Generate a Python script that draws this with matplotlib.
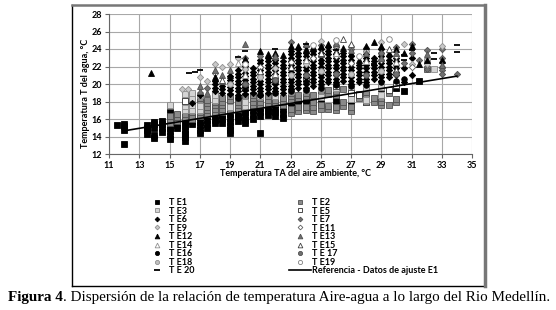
import numpy as np
import matplotlib
matplotlib.use("Agg")
import matplotlib.pyplot as plt
from matplotlib.lines import Line2D

plt.rcParams['font.family'] = ['Lato', 'DejaVu Sans']

# datos: (TA aire, [T agua ...]) por estacion
E1 = [(11.5, [15.3]), (12, [13.1, 14.8, 15.2, 15.4]), (13.5, [14.3, 14.7, 15.0, 15.3]),
      (14, [13.8, 14.2, 15.0, 15.4, 15.7]), (14.5, [14.5, 15.0, 15.4, 15.8]),
      (15, [13.7, 14.1, 14.6, 15.0, 15.4, 15.8, 16.3, 16.8]), (15.5, [15.0, 15.3, 15.7, 16.0, 16.5]),
      (16, [13.5, 13.9, 14.3, 14.8, 15.2, 15.6, 16.0, 16.6]), (16.5, [15.4, 15.8, 16.2, 16.7]),
      (17, [14.4, 14.8, 15.3, 15.7, 16.2, 16.6]), (17.5, [15.0, 15.4, 15.9, 16.4]),
      (18, [15.5, 15.9, 16.3, 16.8, 17.2]), (18.5, [15.6, 16.0, 16.5]),
      (19, [14.4, 14.8, 15.2, 15.7, 16.1, 16.6, 17.0]), (19.5, [15.8, 16.2, 16.6, 17.1]),
      (20, [15.5, 15.9, 16.3, 16.8, 17.2, 17.6]), (20.5, [16.0, 16.5, 17.0, 17.4]),
      (21, [14.4, 16.4, 16.8, 17.3]), (21.5, [16.5, 16.9, 17.3, 17.8]),
      (22, [16.3, 16.8, 17.2, 17.7]), (22.5, [16.1, 16.6, 17.1, 17.5]),
      (23, [17.0, 17.4, 17.9]), (23.5, [17.2, 17.7, 18.1]), (24, [17.3, 17.8, 18.3]),
      (24.5, [17.8]), (25, [17.6, 18.0, 18.5]), (26, [17.5, 18.2, 18.7]),
      (27, [17.1, 17.7, 18.9]), (28, [18.0, 19.2]), (29, [18.0, 19.5]), (30, [19.5]),
      (30.5, [19.2]), (31.5, [20.3])]
E2 = [(15, [15.6, 16.0, 16.4, 17.5]), (15.5, [15.8, 16.2, 16.6]),
      (16, [16.2, 16.6, 17.0, 17.4, 17.8, 18.2, 18.6]),
      (16.5, [16.0, 16.4, 16.8, 17.2, 17.6, 18.0, 18.4, 18.8]),
      (17, [16.4, 16.8, 17.2, 17.6, 18.0, 18.4]), (17.5, [16.6, 17.0, 17.4, 17.8, 18.2]),
      (18, [16.8, 17.2, 17.6, 18.0, 18.4, 18.8]), (18.5, [16.8, 17.2, 17.6, 18.0, 18.4]),
      (19, [17.0, 17.4, 17.8, 18.2, 18.6]), (19.5, [17.2, 17.6, 18.0, 18.4]),
      (20, [17.4, 17.8, 18.2, 18.6]), (20.5, [17.6, 18.0, 18.4, 18.8]),
      (21, [17.6, 18.0, 18.4]), (21.5, [17.8, 18.2, 18.6]), (22, [17.8, 18.2, 18.6]),
      (22.5, [17.6, 18.0, 18.4]), (23, [16.7, 17.1, 18.2, 18.6, 19.0]),
      (23.5, [16.9, 17.4, 18.4, 18.8]), (24, [17.0, 17.4, 18.6, 19.0]),
      (24.5, [16.9, 17.4, 18.0, 18.8]), (25, [17.2, 17.6, 18.8, 19.2]),
      (25.5, [17.1, 17.5, 18.9, 19.3]), (26, [17.0, 17.4, 18.8, 19.2]),
      (26.5, [17.5, 18.0, 19.4]), (27, [16.9, 17.4, 19.3]), (27.5, [18.4, 18.9]),
      (28, [17.9, 18.3, 18.7, 19.1]), (28.5, [18.0, 18.4]), (29, [17.6, 18.0, 18.4]),
      (29.5, [17.6, 19.0]), (30, [17.9, 18.3]), (32, [21.7])]
E3 = [(15, [17.6]), (16, [17.0, 17.5, 18.0, 18.5, 18.9]), (16.5, [17.0, 17.6, 18.4, 19.0]),
      (17, [17.0, 17.5, 18.8]), (18, [18.2, 18.7]), (19, [17.4]), (20, [17.5, 18.0]),
      (21, [18.6]), (22, [18.6]), (23, [19.2]), (24, [19.3]), (25, [18.5, 19.5]),
      (26, [19.6]), (27, [18.3, 19.5]), (28, [18.2, 19.6]), (29, [18.8, 19.7]),
      (32, [22.6]), (32.5, [21.7])]
E5 = [(16, [18.1]), (20, [19.5]), (22, [20.3]), (24, [20.5]), (26, [19.8]), (27, [19.0]),
      (27.5, [18.8]), (29.5, [19.3]), (30, [19.9])]
E6 = [(16.5, [17.8]), (17, [18.8]), (18, [19.2, 19.6, 20.0, 20.4]), (18.5, [19.0, 19.4, 19.8]),
      (19, [18.9, 19.3, 19.7, 20.1, 20.5, 20.9]),
      (19.5, [18.8, 19.2, 19.6, 20.0, 20.4, 20.8, 21.2, 21.6]),
      (20, [18.9, 19.3, 19.7, 20.1, 20.5, 20.9, 21.3, 21.7, 22.1, 22.5]),
      (20.5, [19.0, 19.4, 19.8, 20.2, 20.6, 21.0, 21.4, 21.8]),
      (21, [18.8, 19.2, 19.6, 20.0, 20.4, 20.8, 21.2, 21.6, 22.0, 22.4, 22.8]),
      (21.5, [19.0, 19.4, 19.8, 20.2, 20.6, 21.0, 21.4, 21.8, 22.2, 22.6, 23.0]),
      (22, [19.2, 19.6, 20.0, 20.4, 20.8, 21.2, 21.6, 22.0, 22.4, 22.8]),
      (22.5, [19.0, 19.4, 19.8, 20.2, 20.6, 21.0, 21.4, 21.8, 22.2, 22.6]),
      (23, [19.4, 19.8, 20.2, 20.6, 21.0, 21.4, 21.8, 22.2, 22.6, 23.0, 23.4, 23.8]),
      (23.5, [19.6, 20.0, 20.4, 20.8, 21.2, 21.6, 22.0, 22.4, 22.8, 23.2, 23.6, 24.0]),
      (24, [19.6, 20.0, 20.4, 20.8, 21.2, 21.6, 22.0, 22.4, 22.8, 23.2, 23.6]),
      (24.5, [19.8, 20.2, 20.6, 21.0, 21.4, 21.8, 22.2, 22.6, 23.0, 23.4, 23.8]),
      (25, [20.0, 20.4, 20.8, 21.2, 21.6, 22.0, 22.4, 22.8, 23.2, 23.6, 24.0]),
      (25.5, [20.2, 20.6, 21.0, 21.4, 21.8, 22.2, 22.6, 23.0, 23.4, 23.8, 24.2]),
      (26, [20.2, 20.6, 21.0, 21.4, 21.8, 22.2, 22.6, 23.0, 23.4]),
      (26.5, [20.4, 20.8, 21.2, 21.6, 22.0, 22.4, 22.8, 23.2, 23.6]),
      (27, [20.0, 20.4, 20.8, 21.2, 21.6, 22.0, 22.4, 22.8, 23.2]),
      (27.5, [20.2, 20.6, 21.0, 21.4, 21.8, 22.2]),
      (28, [20.2, 20.6, 21.0, 21.4, 21.8, 22.2, 22.6, 23.0, 23.4, 23.8]),
      (28.5, [20.6, 21.0, 21.4, 21.8, 22.2, 22.6, 23.0]),
      (29, [20.4, 20.8, 21.2, 21.6, 22.0, 22.4, 22.8, 23.2, 23.6, 24.0]),
      (29.5, [20.8, 21.2, 21.6, 22.0, 22.4, 22.8, 23.2]),
      (30, [21.0, 21.4, 21.8, 22.2, 22.6, 23.0]), (30.5, [20.2, 21.8]), (31, [21.0, 23.0])]
E7 = [(17.5, [19.6]), (20, [23.0]), (21, [23.2]), (22, [23.0]), (23, [24.8]), (24, [24.3]),
      (25, [24.5]), (26, [24.2]), (27, [24.0]), (28, [24.1]), (29, [23.6]), (30, [24.2]),
      (30.5, [22.4]), (31, [24.6, 23.6]), (31.5, [22.8]), (32, [23.9, 21.7]),
      (33, [24.0, 23.0, 22.5, 22.0, 21.6, 21.2]), (34, [21.1])]
E9 = [(15.8, [19.4]), (16.2, [19.4]), (17, [20.8]), (17.5, [20.4]), (18, [22.3]), (18.5, [21.9]),
      (19, [22.3]), (19.5, [23.0]), (20, [21.7]), (22, [21.8]), (24, [22.3]), (25, [24.9]),
      (26, [24.5]), (27, [24.3]), (28, [23.8]), (29, [24.8]), (30.5, [24.6]), (31, [22.3]),
      (32, [22.3]), (33, [24.4])]
E11 = [(18, [21.3]), (21, [22.0]), (23, [22.5]), (24.5, [23.0]), (26, [23.2]), (27, [22.4]),
       (29, [22.8]), (30, [23.2]), (31, [22.0])]
E12 = [(13.8, [21.3]), (18, [20.8]), (19, [21.0]), (20, [22.9]), (21, [23.8]), (21.5, [23.4]),
       (22, [23.6]), (22.5, [23.3]), (23, [24.3]), (23.5, [24.4]), (24, [24.0]), (24.5, [24.2]),
       (25, [24.4]), (25.5, [24.6]), (26, [23.8]), (26.5, [24.1]), (27, [23.6]),
       (27.5, [22.8]), (28, [24.3]), (28.5, [24.8]), (29, [24.4]), (29.5, [23.6]),
       (30, [24.0]), (30.5, [23.6]), (31, [24.4]), (31.5, [22.3]), (32, [22.8]), (33, [22.8])]
E13 = [(17, [19.2, 19.8]), (17.5, [19.0]), (18, [21.6]), (18.5, [20.4, 21.0]), (19, [21.6]),
       (20, [24.6]), (22, [23.2]), (24, [24.6]), (25, [23.4]), (26, [24.7]), (27, [23.9]),
       (28, [23.6]), (29, [23.0]), (30, [23.5]), (32, [23.4]), (33, [22.2])]
E14 = [(19.5, [22.4]), (20, [21.0]), (22, [21.2]), (24, [22.8]), (26, [23.6]), (28, [22.6]),
       (30, [22.5])]
E15 = [(18.5, [20.5]), (21, [21.5]), (23, [22.0]), (25, [23.5]), (26.5, [25.2]), (27, [24.6]),
       (29.5, [24.0]), (30, [21.6])]
E16 = [(19.5, [18.4]), (21, [18.8]), (22, [19.0]), (23, [19.2]), (24, [19.3]), (25, [19.6]),
       (26, [19.9]), (27, [19.8]), (28, [19.9]), (29, [20.2]), (30, [20.4]), (30.5, [20.6])]
E17 = [(20, [20.0]), (22, [20.5]), (24, [21.0]), (26, [21.2]), (28, [21.0]), (30, [21.2])]
E18 = [(19, [20.0]), (21, [20.8]), (23, [21.0]), (25, [21.5]), (27, [21.2]), (29, [21.5])]
E19 = [(20, [22.3]), (24.5, [24.5]), (26, [25.0]), (27.5, [23.2]), (29.5, [25.2])]
E20 = [(16.3, [21.3]), (16.7, [21.4]), (17, [21.6]), (19.5, [23.1]), (20, [23.8]),
       (22, [24.0]), (24, [24.6]), (26, [23.9]), (28.5, [22.3]), (30.5, [22.8, 23.3]),
       (31, [23.9]), (32.5, [23.5, 22.9]), (34, [24.5, 23.7])]

# recta de referencia (ajuste E1)
ref_x = [12, 34]
ref_y = [14.65, 20.9]

# nombre, datos, marcador, tamano, relleno, borde
series = [
    ("T E1", E1, 's', 4.2, 'black', 'black'),
    ("T E2", E2, 's', 4.2, '#8a8a8a', '#505050'),
    ("T E3", E3, 's', 4.2, '#d4d4d4', '#8a8a8a'),
    ("T E5", E5, 's', 4.2, 'white', '#303030'),
    ("T E6", E6, 'D', 3.2, 'black', 'black'),
    ("T E7", E7, 'D', 3.2, '#707070', '#505050'),
    ("T E9", E9, 'D', 3.2, '#c8c8c8', '#909090'),
    ("T E11", E11, 'D', 3.2, 'white', '#606060'),
    ("T E12", E12, '^', 4.5, 'black', 'black'),
    ("T E13", E13, '^', 4.5, '#707070', '#505050'),
    ("T E14", E14, '^', 4.5, 'white', '#909090'),
    ("T E15", E15, '^', 4.5, 'white', '#404040'),
    ("T E16", E16, 'o', 4.0, 'black', 'black'),
    ("T E 17", E17, 'o', 4.0, '#707070', '#505050'),
    ("T E18", E18, 'o', 4.0, '#c0c0c0', '#909090'),
    ("T E19", E19, 'o', 4.0, 'white', '#808080'),
    ("T E 20", E20, '_', 5.0, 'black', 'black'),
]

fig = plt.figure(figsize=(5.56, 3.10), dpi=100)
ax = fig.add_axes([109 / 556, 1 - 154 / 310, 363 / 556, 140 / 310])

handles = {}
for name, data, mk, ms, fc, ec in series:
    xs = [x for x, ys in data for _ in ys]
    yv = [y for x, ys in data for y in ys]
    mew = 1.3 if mk == '_' else 0.6
    h, = ax.plot(xs, yv, ls='none', marker=mk, ms=ms, mfc=fc, mec=ec, mew=mew, zorder=3)
    handles[name] = h

ref, = ax.plot(ref_x, ref_y, color='black', lw=1.2, zorder=4)

ax.set_xlim(11, 35)
ax.set_ylim(12, 28)
ax.set_xticks(np.arange(11, 36, 2))
ax.set_yticks(np.arange(12, 29, 2))
ax.grid(True, color='#a8a8a8', lw=0.8)
ax.set_axisbelow(True)
for s in ['top', 'right']:
    ax.spines[s].set_visible(False)
for s in ['left', 'bottom']:
    ax.spines[s].set_color('#666666')
    ax.spines[s].set_linewidth(0.8)
ax.tick_params(length=3, width=0.8, color='#666666', labelsize=6.5, pad=2)
for lb in ax.get_xticklabels() + ax.get_yticklabels():
    lb.set_fontweight('bold')

fig.text(296 / 556, 1 - 174 / 310, "Temperatura TA del aire ambiente, °C",
         ha='center', va='center', fontsize=6.5, fontweight='bold')
fig.text(85 / 556, 1 - 93 / 310, "Temperatura T del agua, °C", rotation=90,
         ha='center', va='center', fontsize=6.5, fontweight='bold')

# leyenda en dos columnas
col1 = ["T E1", "T E3", "T E6", "T E9", "T E12", "T E14", "T E16", "T E18", "T E 20"]
col2 = ["T E2", "T E5", "T E7", "T E11", "T E13", "T E15", "T E 17", "T E19"]
leg_kw = dict(frameon=False, handlelength=2.4, handletextpad=0.15, markerscale=0.75,
              labelspacing=-0.05, borderpad=0, borderaxespad=0, loc='upper left',
              prop={'weight': 'bold', 'size': 6.5})
leg1 = fig.legend([handles[n] for n in col1], col1,
                  bbox_to_anchor=(146 / 556, 1 - 198 / 310), **leg_kw)
leg2 = fig.legend([handles[n] for n in col2] + [ref],
                  col2 + ["Referencia - Datos de ajuste E1"],
                  bbox_to_anchor=(289 / 556, 1 - 198 / 310), **leg_kw)

# marco del grafico
fx0, fx1 = 72 / 556, 485 / 556
fy0, fy1 = 1 - 286 / 310, 1 - 5 / 310
fig.add_artist(Line2D([fx0, fx0], [fy0, fy1], color='black', lw=1.0))
fig.add_artist(Line2D([fx0, fx1], [fy0, fy0], color='black', lw=1.0))
fig.add_artist(Line2D([fx0, fx1], [fy1, fy1], color='#777777', lw=1.8))
fig.add_artist(Line2D([fx1, fx1], [fy0, fy1], color='#777777', lw=2.5))

cap = fig.text(8 / 556, 1 - 298 / 310, "Figura 4", family='Liberation Serif',
               fontsize=10.9, fontweight='bold', va='center')
plt.annotate(". Dispersión de la relación de temperatura Aire-agua a lo largo del Rio Medellín.",
             xy=(1, 0), xycoords=cap, va='bottom', ha='left',
             family='Liberation Serif', fontsize=10.9)

fig.savefig("out.png", dpi=100)
